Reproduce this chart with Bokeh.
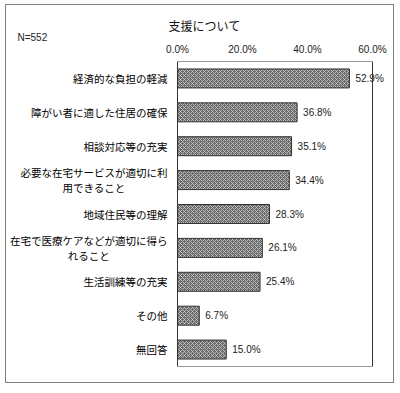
from bokeh.plotting import figure
from bokeh.embed import file_html
from bokeh.resources import INLINE
from bokeh.models import ColumnDataSource, PrintfTickFormatter, FixedTicker, Title, BoxAnnotation
from bokeh.core.properties import value

categories = [
    "経済的な負担の軽減",
    "障がい者に適した住居の確保",
    "相談対応等の充実",
    "必要な在宅サービスが適切に利\n用できること",
    "地域住民等の理解",
    "在宅で医療ケアなどが適切に得ら\nれること",
    "生活訓練等の充実",
    "その他",
    "無回答",
]
percents = [52.9, 36.8, 35.1, 34.4, 28.3, 26.1, 25.4, 6.7, 15.0]
x_ticks = [0, 20, 40, 60]
axis_max = 60
title_text = "支援について"
n_text = "N=552"

# layout (pixels)
label_px = 171          # room for category labels left of the 0 line
plot_px = 195           # 0 .. axis_max
right_px = 19           # room right of axis_max for value labels
px_per_unit = plot_px / axis_max
cat_font_px = 10.5
cat_gap_px = 10
line_step_px = 15

src = ColumnDataSource(dict(
    cat=categories,
    val=percents,
    lab=[f"{v:.1f}%" for v in percents],
))

# category labels: single lines right-aligned, wrapped ones centred line by line
single = [c for c in categories if "\n" not in c]
m_cat, m_txt, m_xoff, m_yoff = [], [], [], []
for c in categories:
    lines = c.split("\n")
    if len(lines) < 2:
        continue
    w = max(len(s) for s in lines) * cat_font_px
    n = len(lines)
    for i, s in enumerate(lines):
        m_cat.append(c)
        m_txt.append(s)
        m_xoff.append(-(cat_gap_px + w / 2))
        m_yoff.append((i - (n - 1) / 2) * line_step_px)
src_single = ColumnDataSource(dict(cat=single, x=[0] * len(single)))
src_multi = ColumnDataSource(dict(cat=m_cat, txt=m_txt, x=[0] * len(m_cat),
                                  xo=m_xoff, yo=m_yoff))

p = figure(
    frame_width=label_px + plot_px + right_px, frame_height=305,
    y_range=list(reversed(categories)),
    x_range=(-label_px / px_per_unit, (plot_px + right_px) / px_per_unit),
    x_axis_location="above",
    output_backend="svg",
    toolbar_location=None,
    min_border_left=0, min_border_right=2,
    min_border_top=56, min_border_bottom=16,
)
p.styles = {"border": "1px solid #808080", "box-sizing": "content-box",
            "margin-left": "5px", "margin-top": "4px"}

p.hbar(y="cat", right="val", left=0, height=0.56, source=src,
       fill_color="#6a6a6a", line_color="#333333", line_width=1,
       hatch_pattern="diagonal_cross", hatch_color="#d8d8d8",
       hatch_scale=4, hatch_weight=1, hatch_alpha=0.7)

p.text(x="val", y="cat", text="lab", source=src, x_offset=6,
       text_baseline="middle", text_align="left",
       text_font=value("Liberation Sans"), text_font_size="10px",
       text_color="#222222")

p.text(x="x", y="cat", text="cat", source=src_single, x_offset=-cat_gap_px,
       text_baseline="middle", text_align="right",
       text_font=value("Noto Sans CJK JP"), text_font_size=f"{cat_font_px}px",
       text_color="#000000")

p.text(x="x", y="cat", text="txt", source=src_multi, x_offset="xo", y_offset="yo",
       text_baseline="middle", text_align="center",
       text_font=value("Noto Sans CJK JP"), text_font_size=f"{cat_font_px}px",
       text_color="#000000")

# plot-area box from 0 to the axis maximum
p.add_layout(BoxAnnotation(left=0, right=axis_max, fill_alpha=0,
                           line_color="#333333", line_width=1, line_alpha=1))

p.xgrid.visible = False
p.ygrid.visible = False
p.yaxis.visible = False
p.outline_line_color = None

xa = p.xaxis[0]
xa.ticker = FixedTicker(ticks=x_ticks)
xa.formatter = PrintfTickFormatter(format="%.1f%%")
xa.axis_line_color = None
xa.major_tick_line_color = None
xa.minor_tick_line_color = None
xa.major_tick_out = 0
xa.major_tick_in = 0
xa.minor_tick_out = 0
xa.major_label_standoff = 7
xa.major_label_text_font = "Liberation Sans"
xa.major_label_text_font_size = "10px"
xa.major_label_text_color = "#222222"

p.add_layout(Title(text=n_text, align="left", offset=11, standoff=-4,
                   text_font="Liberation Sans", text_font_size="10px",
                   text_font_style="normal", text_color="#222222"), "above")

p.title = Title(text=title_text, align="left", offset=162, standoff=-4,
                text_font="Noto Sans CJK JP", text_font_size="12px",
                text_font_style="normal", text_color="#111111")

open("out.html", "w").write(file_html(p, INLINE))
